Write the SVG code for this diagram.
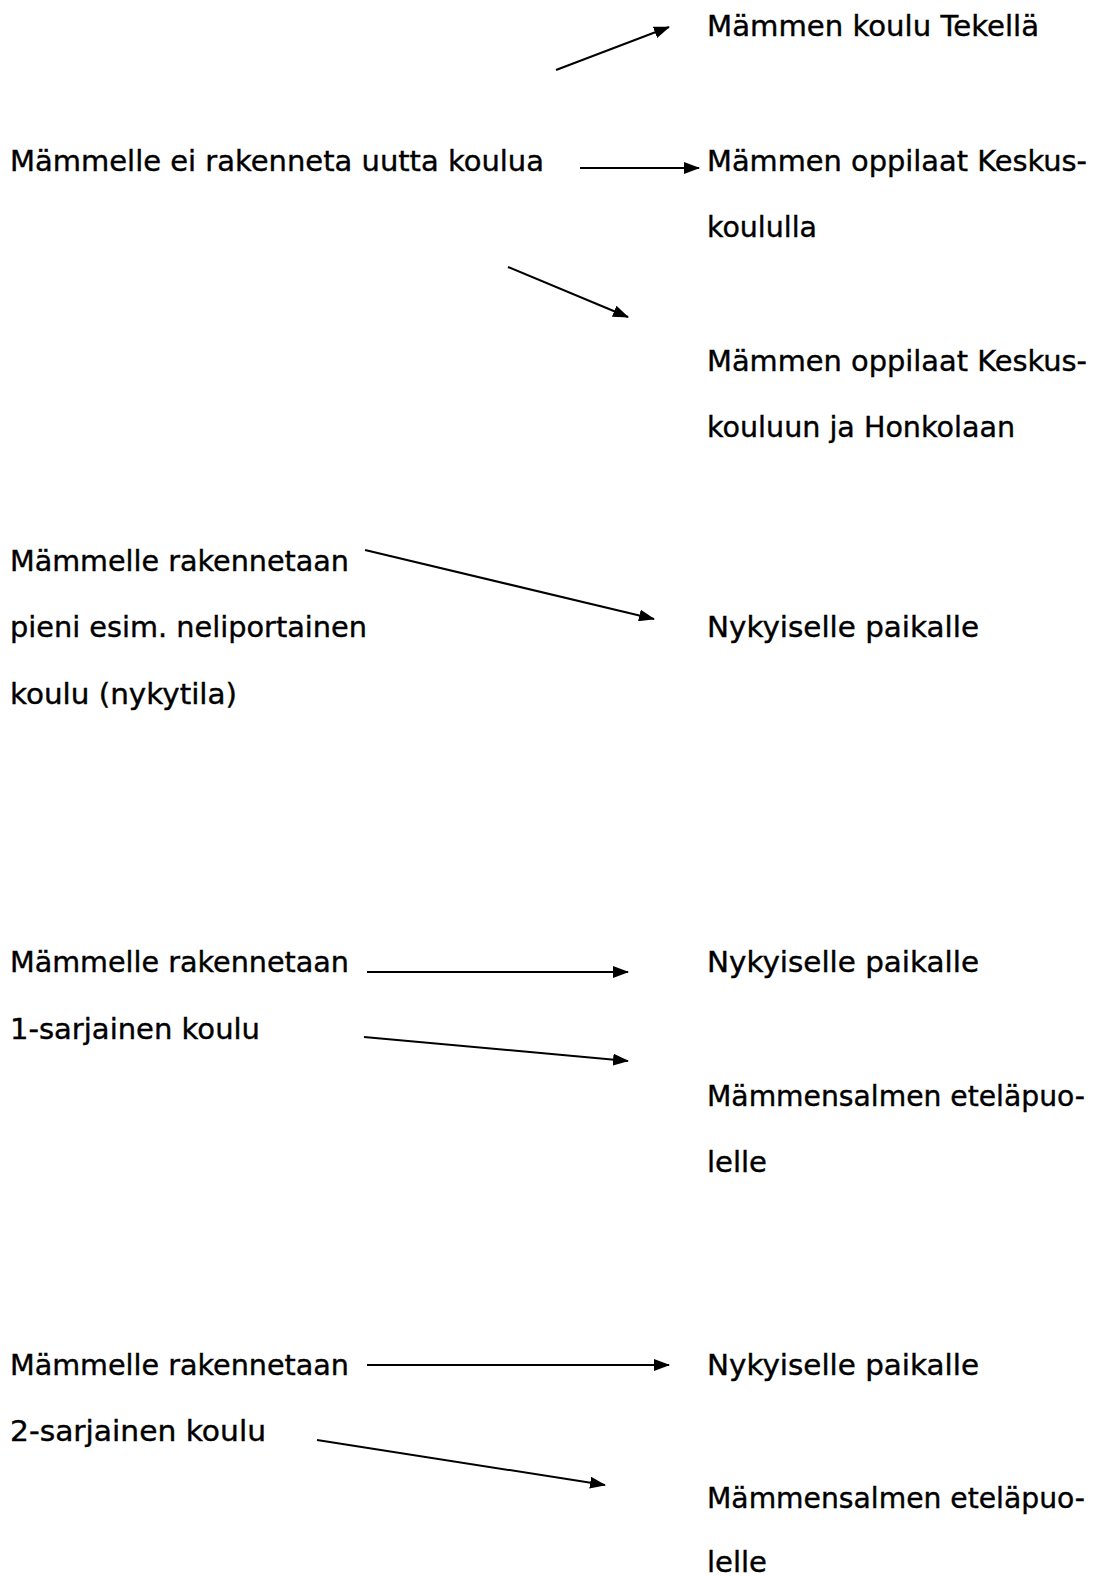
<svg xmlns="http://www.w3.org/2000/svg" width="1099" height="1576" viewBox="0 0 1099 1576">
<style>
text{font-family:"DejaVu Sans","Noto Sans",sans-serif;font-size:29px;fill:#000;stroke:#000;stroke-width:0.4}
.c line{stroke:#000;stroke-width:2;marker-end:url(#ah)}
</style>
<defs>
<marker id="ah" viewBox="0 0 16 12" refX="15" refY="6" markerWidth="16" markerHeight="12" markerUnits="userSpaceOnUse" orient="auto">
<path d="M0,0 L16,6 L0,12 z" fill="#000"/>
</marker>
</defs>
<rect width="1099" height="1576" fill="#fff"/>
<g id="n1"><text x="707" y="36" textLength="332" lengthAdjust="spacingAndGlyphs">Mämmen koulu Tekellä</text></g>
<g id="n2"><text x="10" y="171" textLength="534" lengthAdjust="spacingAndGlyphs">Mämmelle ei rakenneta uutta koulua</text></g>
<g id="n3"><text x="707" y="171" textLength="380" lengthAdjust="spacingAndGlyphs">Mämmen oppilaat Keskus-</text><text x="707" y="237" textLength="110" lengthAdjust="spacingAndGlyphs">koululla</text></g>
<g id="n4"><text x="707" y="371" textLength="380" lengthAdjust="spacingAndGlyphs">Mämmen oppilaat Keskus-</text><text x="707" y="437" textLength="308" lengthAdjust="spacingAndGlyphs">kouluun ja Honkolaan</text></g>
<g id="n5"><text x="10" y="571" textLength="339" lengthAdjust="spacingAndGlyphs">Mämmelle rakennetaan</text><text x="10" y="637" textLength="357" lengthAdjust="spacingAndGlyphs">pieni esim. neliportainen</text><text x="10" y="704" textLength="227" lengthAdjust="spacingAndGlyphs">koulu (nykytila)</text></g>
<g id="n6"><text x="707" y="637" textLength="272" lengthAdjust="spacingAndGlyphs">Nykyiselle paikalle</text></g>
<g id="n7"><text x="10" y="972" textLength="339" lengthAdjust="spacingAndGlyphs">Mämmelle rakennetaan</text><text x="10" y="1039" textLength="250" lengthAdjust="spacingAndGlyphs">1-sarjainen koulu</text></g>
<g id="n8"><text x="707" y="972" textLength="272" lengthAdjust="spacingAndGlyphs">Nykyiselle paikalle</text></g>
<g id="n9"><text x="707" y="1106" textLength="378" lengthAdjust="spacingAndGlyphs">Mämmensalmen eteläpuo-</text><text x="707" y="1172" textLength="60" lengthAdjust="spacingAndGlyphs">lelle</text></g>
<g id="n10"><text x="10" y="1375" textLength="339" lengthAdjust="spacingAndGlyphs">Mämmelle rakennetaan</text><text x="10" y="1441" textLength="256" lengthAdjust="spacingAndGlyphs">2-sarjainen koulu</text></g>
<g id="n11"><text x="707" y="1375" textLength="272" lengthAdjust="spacingAndGlyphs">Nykyiselle paikalle</text></g>
<g id="n12"><text x="707" y="1508" textLength="378" lengthAdjust="spacingAndGlyphs">Mämmensalmen eteläpuo-</text><text x="707" y="1572" textLength="60" lengthAdjust="spacingAndGlyphs">lelle</text></g>
<g class="c" id="connectors">
<line x1="556" y1="70" x2="669" y2="27"/>
<line x1="580" y1="168" x2="699" y2="168"/>
<line x1="508" y1="267" x2="628" y2="317"/>
<line x1="365" y1="550" x2="654" y2="619"/>
<line x1="367" y1="972" x2="628" y2="972"/>
<line x1="364" y1="1037" x2="628" y2="1061"/>
<line x1="367" y1="1365" x2="669" y2="1365"/>
<line x1="317" y1="1440" x2="605" y2="1485"/>
</g>
</svg>
